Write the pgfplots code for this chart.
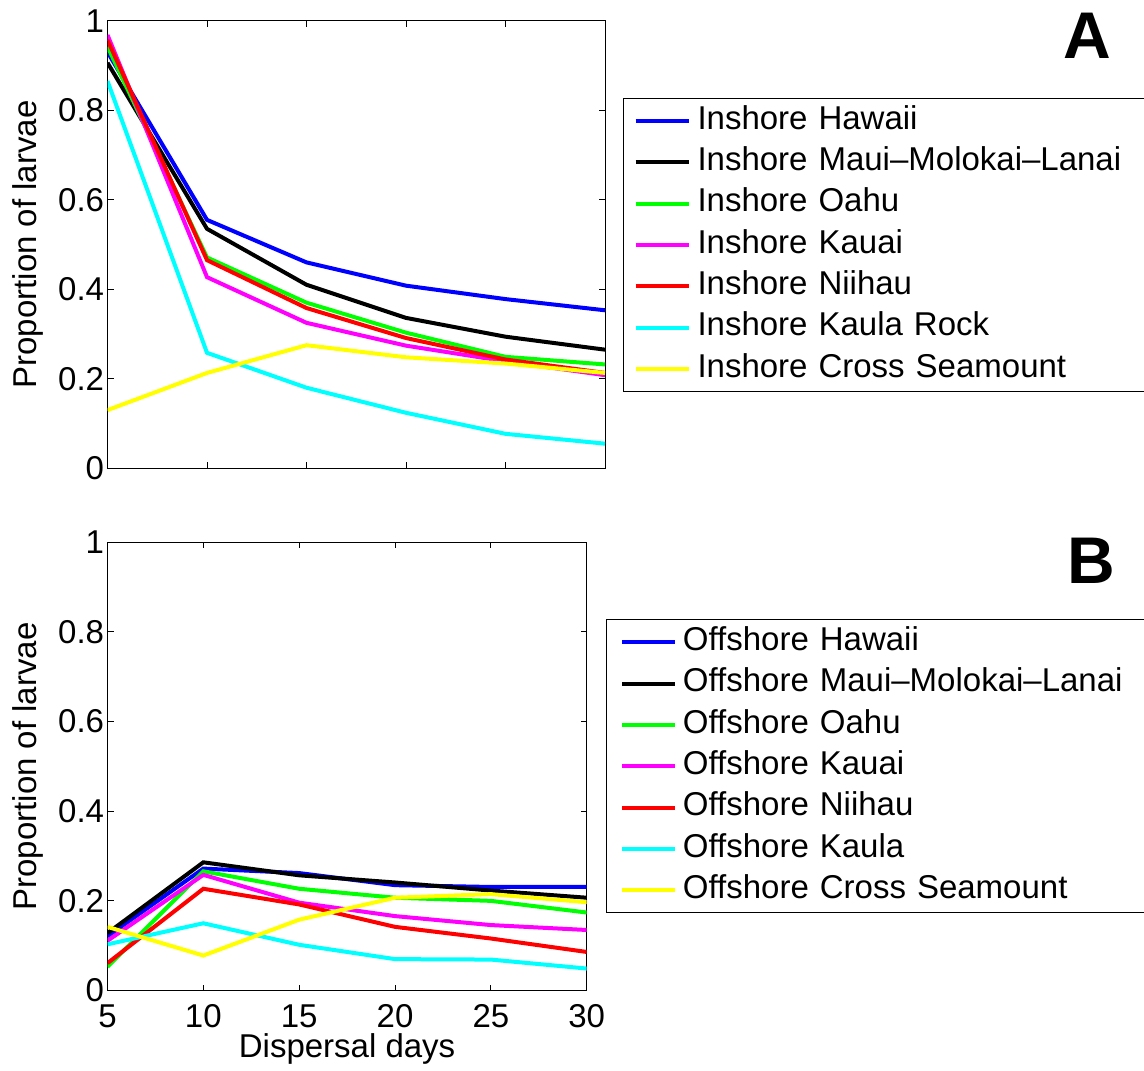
\documentclass[border=0pt]{standalone}
\usepackage{fontspec}
\setmainfont{Liberation Sans}
\usepackage{pgfplots}
\usepackage{pgfplotstable}
\pgfplotsset{compat=1.18}

\definecolor{mblue}{RGB}{0,0,255}
\definecolor{mgreen}{RGB}{0,255,0}
\definecolor{mmag}{RGB}{255,0,255}
\definecolor{mred}{RGB}{255,0,0}
\definecolor{mcyan}{RGB}{0,255,255}
\definecolor{myellow}{RGB}{255,255,0}

\pgfplotstableread{
x   hawaii maui  oahu  kauai niihau kaula cross
5   0.930  0.906 0.942 0.968 0.957  0.865 0.130
10  0.555  0.535 0.471 0.427 0.465  0.258 0.213
15  0.460  0.410 0.370 0.325 0.358  0.180 0.275
20  0.408  0.336 0.303 0.274 0.291  0.124 0.248
25  0.378  0.294 0.249 0.239 0.243  0.077 0.234
30  0.353  0.265 0.232 0.208 0.213  0.055 0.213
}\inshore

\pgfplotstableread{
x   hawaii maui  oahu  kauai niihau kaula cross
5   0.121  0.128 0.053 0.111 0.061  0.103 0.142
10  0.272  0.286 0.266 0.258 0.227  0.150 0.078
15  0.262  0.257 0.227 0.196 0.192  0.102 0.158
20  0.235  0.241 0.207 0.166 0.142  0.070 0.207
25  0.231  0.223 0.200 0.146 0.116  0.069 0.215
30  0.231  0.207 0.174 0.135 0.086  0.049 0.197
}\offshore

\newcommand{\fs}{\fontsize{16.5}{19}\selectfont}

\pgfplotsset{
  mystyle/.style={
    scale only axis,
    xmin=5, xmax=30, ymin=0, ymax=1,
    xtick={5,10,15,20,25,30},
    ytick={0,0.2,0.4,0.6,0.8,1},
    yticklabels={0,0.2,0.4,0.6,0.8,1},
    tick align=inside,
    major tick length=3pt,
    axis line style={line width=0.5pt, black},
    every tick/.style={black, line width=0.5pt},
    tick label style={font=\fs},
    yticklabel style={xshift=1.8pt},
    xticklabel style={yshift=-3.5pt},
    /pgf/number format/assume math mode=true,
    every axis plot/.append style={line width=2pt},
    legend cell align=left,
    legend image code/.code={\draw[##1, line width=2pt] (0pt,0pt) -- (26.5pt,0pt);},
  }
}

\begin{document}
\begin{tikzpicture}
\useasboundingbox (0,0) rectangle (572pt,535pt);

% Panel A
\begin{axis}[mystyle,
  at={(53.75pt,300.85pt)}, anchor=south west,
  width=248.75pt, height=223.8pt,
  xticklabels={},
  ylabel={Proportion of larvae},
  every axis y label/.style={at={(axis description cs:-0.159,0.5)}, anchor=center, rotate=90, font=\fs},
  legend style={at={(rel axis cs:1.0362,0.8273)}, anchor=north west,
    draw=black, line width=0.5pt, fill=white,
    inner xsep=5pt, inner ysep=3pt, font=\fs,
    row sep=4.17pt, column sep=3.5pt,
    nodes={inner sep=0pt, text height=12.4pt, text depth=4.1pt},
    /tikz/every even column/.append style={text width=219pt}},
]
\addplot[mblue]   table[x=x,y=hawaii] {\inshore};
\addplot[black]   table[x=x,y=maui]   {\inshore};
\addplot[mgreen]  table[x=x,y=oahu]   {\inshore};
\addplot[mmag]    table[x=x,y=kauai]  {\inshore};
\addplot[mred]    table[x=x,y=niihau] {\inshore};
\addplot[mcyan]   table[x=x,y=kaula]  {\inshore};
\addplot[myellow] table[x=x,y=cross]  {\inshore};
\legend{Inshore Hawaii, Inshore Maui--Molokai--Lanai, Inshore Oahu, Inshore Kauai, Inshore Niihau, Inshore Kaula Rock, Inshore Cross Seamount}
\end{axis}

% Panel B
\begin{axis}[mystyle,
  at={(53.75pt,39.75pt)}, anchor=south west,
  width=239.6pt, height=224.1pt,
  xticklabels={5,10,15,20,25,30},
  xlabel={Dispersal days},
  ylabel={Proportion of larvae},
  every axis y label/.style={at={(axis description cs:-0.165,0.5)}, anchor=center, rotate=90, font=\fs},
  every axis x label/.style={at={(axis description cs:0.5,-0.1305)}, anchor=center, font=\fs},
  legend style={at={(rel axis cs:1.0397,0.8282)}, anchor=north west,
    draw=black, line width=0.5pt, fill=white,
    inner xsep=7pt, inner ysep=3pt, font=\fs,
    row sep=4.17pt, column sep=2.85pt,
    nodes={inner sep=0pt, text height=12.4pt, text depth=4.1pt},
    /tikz/every even column/.append style={text width=224pt}},
]
\addplot[mblue]   table[x=x,y=hawaii] {\offshore};
\addplot[black]   table[x=x,y=maui]   {\offshore};
\addplot[mgreen]  table[x=x,y=oahu]   {\offshore};
\addplot[mmag]    table[x=x,y=kauai]  {\offshore};
\addplot[mred]    table[x=x,y=niihau] {\offshore};
\addplot[mcyan]   table[x=x,y=kaula]  {\offshore};
\addplot[myellow] table[x=x,y=cross]  {\offshore};
\legend{Offshore Hawaii, Offshore Maui--Molokai--Lanai, Offshore Oahu, Offshore Kauai, Offshore Niihau, Offshore Kaula, Offshore Cross Seamount}
\end{axis}

\node[font=\fontsize{33}{33}\selectfont\bfseries, anchor=center] at (543.5pt,517pt) {A};
\node[font=\fontsize{33}{33}\selectfont\bfseries, anchor=center] at (545.5pt,254.5pt) {B};
\end{tikzpicture}
\end{document}
